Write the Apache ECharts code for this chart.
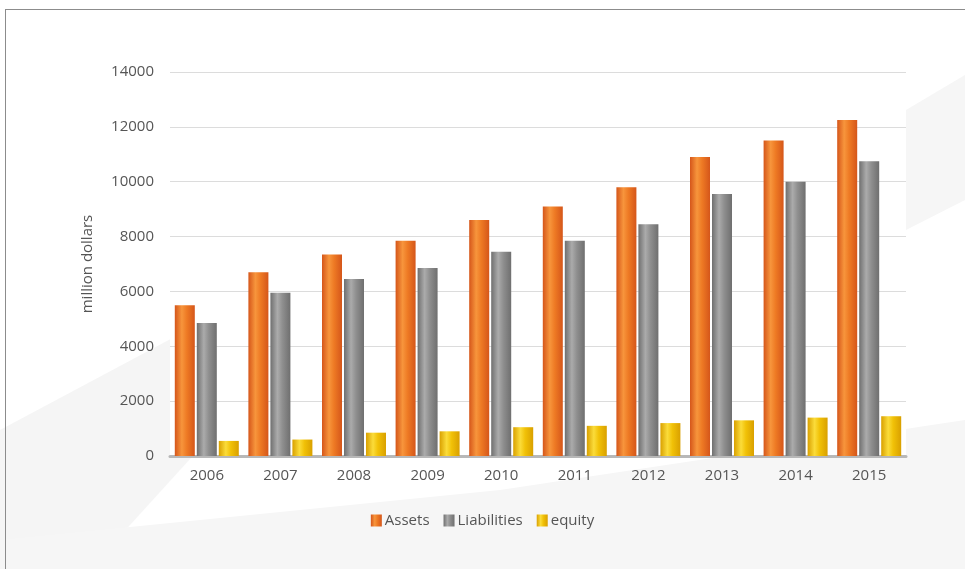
<!DOCTYPE html>
<html>
<head>
<meta charset="utf-8">
<script src="https://cdn.jsdelivr.net/npm/echarts@6/dist/echarts.min.js"></script>
<style>
  html, body { margin: 0; padding: 0; background: #fff; }
  #frame { position: absolute; left: 5px; top: 9px; width: 960px; height: 560px;
           border-left: 1px solid #8c8c8c; border-top: 1px solid #8c8c8c; }
  #chart { position: absolute; left: 0; top: 0; width: 965px; height: 569px; }
</style>
</head>
<body>
<div id="chart"></div>
<div id="frame"></div>
<script>
// Balance-sheet totals per year, in million dollars
const years = ['2006', '2007', '2008', '2009', '2010', '2011', '2012', '2013', '2014', '2015'];
const assets = [5500, 6700, 7350, 7850, 8600, 9100, 9800, 10900, 11500, 12250];
const liabilities = [4850, 5950, 6450, 6850, 7450, 7850, 8450, 9550, 10000, 10750];
const equity = [550, 600, 850, 900, 1050, 1100, 1200, 1300, 1400, 1450];
const yTicks = [0, 2000, 4000, 6000, 8000, 10000, 12000, 14000];

const font = '"Open Sans", "Noto Sans", sans-serif';
const textColor = '#555';

// Horizontal gradient that gives each bar a rounded, cylindrical look
function cylinder(edge, mid, light) {
  return new echarts.graphic.LinearGradient(0, 0, 1, 0, [
    { offset: 0, color: edge },
    { offset: 0.35, color: light },
    { offset: 0.6, color: mid },
    { offset: 1, color: edge }
  ]);
}

const chart = echarts.init(document.getElementById('chart'), null, { renderer: 'canvas' });

const option = {
  backgroundColor: '#ffffff',
  animation: false,
  graphic: [
    // faint decorative swooshes behind the plot
    { type: 'polygon', z: -10, shape: { points: [[0, 430], [300, 270], [380, 250], [90, 569], [0, 569]] },
      style: { fill: '#f5f5f5' } },
    { type: 'polygon', z: -10, shape: { points: [[0, 540], [500, 490], [965, 420], [965, 569], [0, 569]] },
      style: { fill: '#f6f6f6' } },
    { type: 'polygon', z: -10, shape: { points: [[906, 110], [965, 75], [965, 200], [906, 230]] },
      style: { fill: '#f6f6f6' } }
  ],
  grid: {
    left: 170, right: 59, top: 72, bottom: 113,
    show: true, backgroundColor: '#ffffff', borderWidth: 0
  },
  legend: {
    data: ['Assets', 'Liabilities', 'equity'],
    left: 'center', top: 508,
    itemWidth: 11, itemHeight: 12, itemGap: 14,
    icon: 'rect',
    textStyle: { fontFamily: font, fontSize: 15, color: textColor, padding: [0, 0, 0, -2] }
  },
  xAxis: {
    type: 'category',
    data: years,
    axisLine: { show: true, lineStyle: { color: '#b8b8b8', width: 3 } },
    axisTick: { show: false },
    axisLabel: { fontFamily: font, fontSize: 15, color: textColor, margin: 12 }
  },
  yAxis: {
    type: 'value',
    min: yTicks[0], max: yTicks[yTicks.length - 1], interval: 2000,
    name: 'million dollars',
    nameLocation: 'middle', nameGap: 75, nameRotate: 90,
    nameTextStyle: { fontFamily: font, fontSize: 15, color: textColor },
    axisLine: { show: false },
    axisTick: { show: false },
    axisLabel: { fontFamily: font, fontSize: 15, color: textColor, margin: 16,
                 formatter: (v) => String(v) },
    splitLine: { lineStyle: { color: '#dcdcdc', width: 1 } }
  },
  series: [
    {
      name: 'Assets', type: 'bar', data: assets,
      barWidth: 20, barGap: '10%', barCategoryGap: '13%',
      itemStyle: { color: cylinder('#d5561a', '#ee7a24', '#f7953c') }
    },
    {
      name: 'Liabilities', type: 'bar', data: liabilities,
      barWidth: 20,
      itemStyle: { color: cylinder('#6f6f6f', '#8f8f8f', '#ababab') }
    },
    {
      name: 'equity', type: 'bar', data: equity,
      barWidth: 20,
      itemStyle: { color: cylinder('#d9a000', '#f1c107', '#fbdc3a') }
    }
  ]
};

chart.setOption(option);
</script>
</body>
</html>
